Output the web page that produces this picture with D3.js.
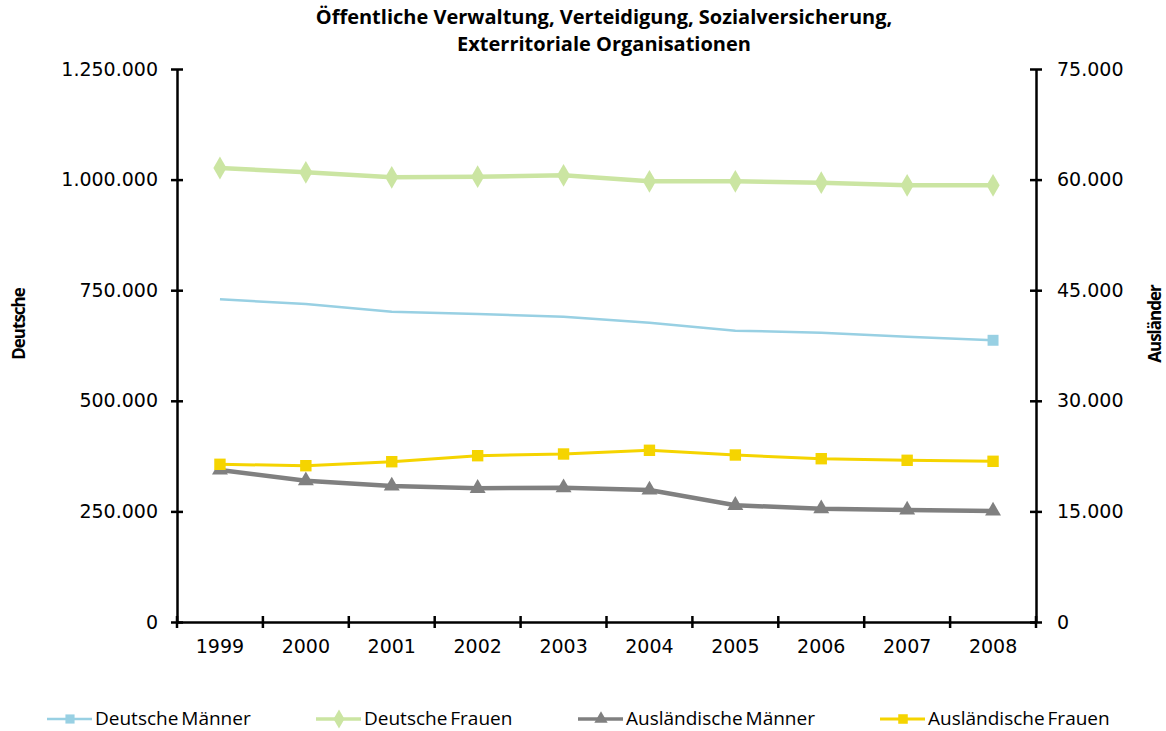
<!DOCTYPE html>
<html>
<head>
<meta charset="utf-8">
<script src="https://cdn.jsdelivr.net/npm/d3@7"></script>
<style>
  body { margin: 0; background: #fff; }
  svg { font-family: "Open Sans", "Noto Sans", sans-serif; }
  .axis path, .axis line { stroke: #000; stroke-width: 2.5; }
  .axis text { font-family: "DejaVu Sans", sans-serif; font-size: 19px; fill: #000; }
</style>
</head>
<body>
<svg class="chart" width="1166" height="731"></svg>
<script>
// years on the x axis
let years = ['1999', '2000', '2001', '2002', '2003', '2004', '2005', '2006', '2007', '2008']

// left axis (Deutsche)
let deutscheMaenner = [729400, 718800, 701400, 696200, 690100, 676500, 658500, 653900, 644900, 636800]
let deutscheFrauen = [1026200, 1016500, 1005200, 1006600, 1009700, 996200, 996200, 993000, 987100, 987100]

// right axis (Ausländer)
let auslMaenner = [20615, 19164, 18445, 18133, 18215, 17902, 15827, 15366, 15190, 15054]
let auslFrauen = [21388, 21198, 21740, 22554, 22785, 23287, 22649, 22147, 21930, 21795]

let leftTicks = [0, 250000, 500000, 750000, 1000000, 1250000]
let rightTicks = [0, 15000, 30000, 45000, 60000, 75000]

let margin = { top: 69, right: 130, bottom: 109, left: 177 }
let width = 1166 - margin.left - margin.right
let height = 731 - margin.top - margin.bottom

let svg = d3.select('.chart')
let chart = svg.append('g')
    .attr('transform', 'translate(' + margin.left + ',' + margin.top + ')')

let x = d3.scaleBand().domain(years).range([0, width])
let yL = d3.scaleLinear().domain([0, 1250000]).range([height, 0])
let yR = d3.scaleLinear().domain([0, 75000]).range([height, 0])
let fmt = d => d3.format(',')(d).replace(/,/g, '.')
let cx = d => x(d) + x.bandwidth() / 2

// axes with ticks crossing the line
let crossTicks = function (g, dir) {
  g.selectAll('.tick line').attr(dir + '1', -6).attr(dir + '2', 6)
}

chart.append('g').attr('class', 'axis y')
    .call(d3.axisLeft(yL).tickValues(leftTicks).tickFormat(fmt).tickSize(6).tickSizeOuter(0).tickPadding(13))
    .call(g => crossTicks(g, 'x'))

chart.append('g').attr('class', 'axis y2')
    .attr('transform', 'translate(' + width + ',0)')
    .call(d3.axisRight(yR).tickValues(rightTicks).tickFormat(fmt).tickSize(6).tickSizeOuter(0).tickPadding(15))
    .call(g => crossTicks(g, 'x'))

let xAxis = chart.append('g').attr('class', 'axis x')
    .attr('transform', 'translate(0,' + height + ')')
    .call(d3.axisBottom(x).tickSize(0).tickSizeOuter(0).tickPadding(18))

// tick marks between the categories
let bounds = years.map(d => x(d)).concat([width])
xAxis.selectAll('.sep')
    .data(bounds)
    .enter()
    .append('line')
    .attr('x1', d => d).attr('x2', d => d)
    .attr('y1', -6).attr('y2', 6)
    .attr('stroke', '#000').attr('stroke-width', 2.5)

// series
let series = [
  { name: 'Deutsche Männer', values: deutscheMaenner, y: yL, color: '#98d0e3', width: 2.5, marker: 'square', size: 120, onlyLast: true },
  { name: 'Deutsche Frauen', values: deutscheFrauen, y: yL, color: '#cbe5a2', width: 4.5, marker: 'diamond', size: 150 },
  { name: 'Ausländische Männer', values: auslMaenner, y: yR, color: '#808080', width: 4.5, marker: 'triangle', size: 110 },
  { name: 'Ausländische Frauen', values: auslFrauen, y: yR, color: '#f5d400', width: 3, marker: 'square', size: 130 }
]

let symbols = { square: d3.symbolSquare, diamond: d3.symbolDiamond, triangle: d3.symbolTriangle }

series.forEach(s => {
  let pts = years.map((yr, i) => ({ yr: yr, v: s.values[i] }))
  let line = d3.line().x(d => cx(d.yr)).y(d => s.y(d.v))
  chart.append('path')
      .datum(pts)
      .attr('fill', 'none')
      .attr('stroke', s.color)
      .attr('stroke-width', s.width)
      .attr('d', line)

  let markPts = s.onlyLast ? pts.slice(-1) : pts
  chart.selectAll(null)
      .data(markPts)
      .enter()
      .append('path')
      .attr('transform', d => 'translate(' + cx(d.yr) + ',' + s.y(d.v) + ')')
      .attr('d', d3.symbol().type(symbols[s.marker]).size(s.size))
      .attr('fill', s.color)
})

// title
svg.append('text')
    .attr('x', 604).attr('y', 24)
    .attr('text-anchor', 'middle')
    .attr('font-size', 20).attr('font-weight', 'bold')
    .text('Öffentliche Verwaltung, Verteidigung, Sozialversicherung,')
svg.append('text')
    .attr('x', 604).attr('y', 51)
    .attr('text-anchor', 'middle')
    .attr('font-size', 20).attr('font-weight', 'bold')
    .text('Exterritoriale Organisationen')

// axis titles
svg.append('text')
    .attr('transform', 'translate(25,324) rotate(-90)')
    .attr('text-anchor', 'middle')
    .attr('font-size', 17).attr('font-weight', 'bold')
    .attr('letter-spacing', -1)
    .text('Deutsche')
svg.append('text')
    .attr('transform', 'translate(1161,324) rotate(-90)')
    .attr('text-anchor', 'middle')
    .attr('font-size', 17).attr('font-weight', 'bold')
    .attr('letter-spacing', -1)
    .text('Ausländer')

// legend
let legendX = [47, 316, 578, 880]
let legend = svg.selectAll('.legend')
    .data(series)
    .enter()
    .append('g')
    .attr('class', 'legend')
    .attr('transform', (d, i) => 'translate(' + legendX[i] + ',719)')

legend.append('line')
    .attr('x1', 0).attr('x2', 45)
    .attr('stroke', d => d.color)
    .attr('stroke-width', d => Math.min(d.width, 3.5))
legend.append('path')
    .attr('transform', 'translate(23,0)')
    .attr('d', d => d3.symbol().type(symbols[d.marker]).size(d.size * 0.7)())
    .attr('fill', d => d.color)
legend.append('text')
    .attr('x', 48).attr('y', 6)
    .attr('font-size', 19)
    .attr('word-spacing', -2)
    .text(d => d.name)
</script>
</body>
</html>
